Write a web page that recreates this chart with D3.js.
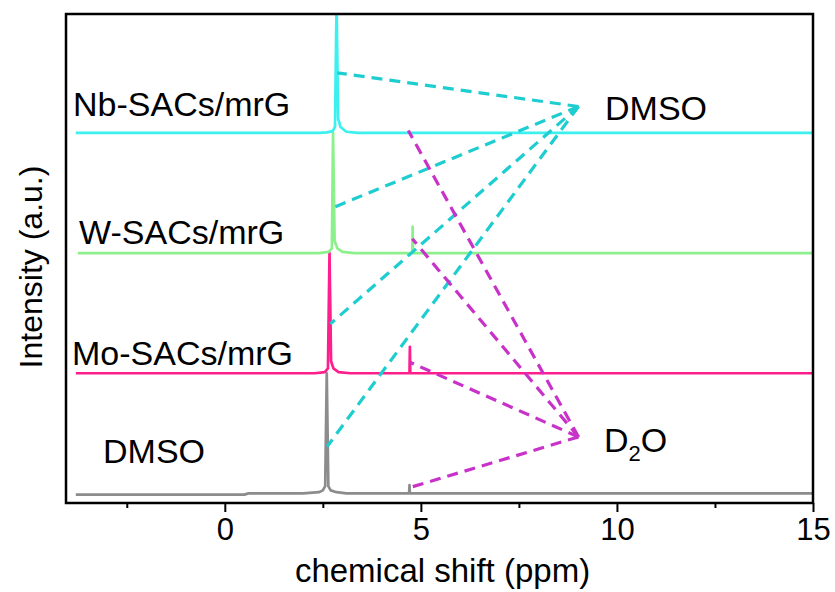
<!DOCTYPE html>
<html><head><meta charset="utf-8">
<script src="https://cdn.jsdelivr.net/npm/d3@7"></script>
<style>body{margin:0;background:#fff}svg{display:block}text{font-family:"Liberation Sans",Arial,sans-serif}</style>
</head><body>
<svg id="c" width="835" height="592"></svg>
<script>
// ---- data (ppm, relative intensity above each trace's baseline) ----
const seriesNames = ["DMSO", "Mo-SACs/mrG", "W-SACs/mrG", "Nb-SACs/mrG"];
const seriesColors = ["#8c8c8c", "#ff1e8c", "#8cf08c", "#3cf0f0"];
const offsets = [0, 1, 2, 3];
const xStart = [-3.8, -3.8, -3.75, -3.8];

const dmsoSpectrum = [[-3.8,-0.01],[0.5,-0.01],[0.6,0.0],[2.0,0.0],[2.4,0.01],[2.5,0.025],[2.56,0.06],[2.6,1.0],[2.64,0.06],[2.7,0.025],[2.85,0.01],[3.1,0.0],[4.7,0.0],[4.71,0.07],[4.72,0.0],[15,0.0]];
const moSpectrum = [[-3.8,0.0],[2.3,0.0],[2.55,0.01],[2.63,0.04],[2.67,1.0],[2.71,0.1],[2.77,0.04],[2.9,0.01],[3.2,0.0],[4.71,0.0],[4.72,0.22],[4.73,0.0],[15,0.0]];
const wSpectrum = [[-3.75,0.0],[2.4,0.0],[2.65,0.01],[2.73,0.04],[2.76,1.0],[2.8,0.1],[2.87,0.04],[3.0,0.01],[3.3,0.0],[4.78,0.0],[4.79,0.22],[4.8,0.0],[15,0.0]];
const nbSpectrum = [[-3.8,0.0],[2.4,0.0],[2.6,0.005],[2.75,0.015],[2.81,0.05],[2.85,1.1],[2.89,0.12],[2.95,0.05],[3.1,0.01],[3.4,0.0],[15,0.0]];
const spectra = [dmsoSpectrum, moSpectrum, wSpectrum, nbSpectrum];

const xTicks = [0, 5, 10, 15];
const xMinorTicks = [-2.5, 2.5, 7.5, 12.5];

// guide lines: [ppm, absolute intensity]
const dmsoApex = [9.02, 3.22];
const dmsoTargets = [[2.87, 3.50], [2.77, 2.38], [2.69, 1.41], [2.61, 0.39]];
const d2oApex = [9.02, 0.47];
const d2oTargets = [[4.68, 3.02], [4.78, 2.12], [4.73, 1.09], [4.73, 0.05]];

// ---- layout ----
const svg = d3.select("#c");
const L = 66, R = 813, T = 14, B = 503;
const x = d3.scaleLinear().domain([-4.05, 15]).range([L, R]);
const y = d3.scaleLinear().domain([-0.08, 3.99]).range([B, T]);

svg.append("defs").append("clipPath").attr("id","clip")
  .append("rect").attr("x",L).attr("y",T).attr("width",R-L).attr("height",B-T);

const line = d3.line().x(d=>x(d[0])).y(d=>y(d[1]));
const g = svg.append("g").attr("clip-path","url(#clip)");

spectra.forEach((s,i)=>{
  const pts = s.map(d=>[d[0], d[1]+offsets[i]]);
  pts[0][0] = xStart[i];
  g.append("path").attr("d", line(pts)).attr("fill","none")
   .attr("stroke", seriesColors[i]).attr("stroke-width",2.7).attr("stroke-linejoin","round");
});

// dashed guide lines
dmsoTargets.forEach(t=>{
  g.append("path").attr("d", line([dmsoApex, t])).attr("fill","none")
   .attr("stroke","#1ecdd0").attr("stroke-width",3.2).attr("stroke-dasharray","11,7");
});
d2oTargets.forEach(t=>{
  g.append("path").attr("d", line([d2oApex, t])).attr("fill","none")
   .attr("stroke","#c832c8").attr("stroke-width",3.2).attr("stroke-dasharray","11,7");
});

// frame
svg.append("rect").attr("x",L).attr("y",T).attr("width",R-L).attr("height",B-T)
  .attr("fill","none").attr("stroke","#000").attr("stroke-width",2.5);

// x axis
const ax = svg.append("g").attr("transform",`translate(0,${B})`)
  .call(d3.axisBottom(x).tickValues(xTicks).tickSize(9).tickPadding(6).tickFormat(d3.format("d")));
ax.select(".domain").remove();
ax.selectAll("line").attr("stroke","#000").attr("stroke-width",2);
ax.selectAll("text").attr("font-size",31).attr("fill","#000").attr("font-family",'"Liberation Sans",Arial,sans-serif');
const axm = svg.append("g").attr("transform",`translate(0,${B})`)
  .call(d3.axisBottom(x).tickValues(xMinorTicks).tickSize(5).tickFormat(""));
axm.select(".domain").remove();
axm.selectAll("line").attr("stroke","#000").attr("stroke-width",2);

svg.append("text").attr("x",(L+R)/2+3).attr("y",582).attr("text-anchor","middle")
  .attr("font-size",33).text("chemical shift (ppm)");
svg.append("text").attr("transform","translate(42,267) rotate(-90)").attr("text-anchor","middle")
  .attr("font-size",32).text("Intensity (a.u.)");

// labels
const labelPos = [[103,463],[72,365],[79,244],[73,116]];
seriesNames.forEach((n,i)=>{
  svg.append("text").attr("x",labelPos[i][0]).attr("y",labelPos[i][1]).attr("font-size",34).text(n);
});
svg.append("text").attr("x",605).attr("y",120).attr("font-size",34).text("DMSO");
const d2o = svg.append("text").attr("x",604).attr("y",452).attr("font-size",34);
d2o.append("tspan").text("D");
d2o.append("tspan").attr("font-size",22).attr("dy",9).text("2");
d2o.append("tspan").attr("dy",-9).text("O");
</script>
</body></html>
